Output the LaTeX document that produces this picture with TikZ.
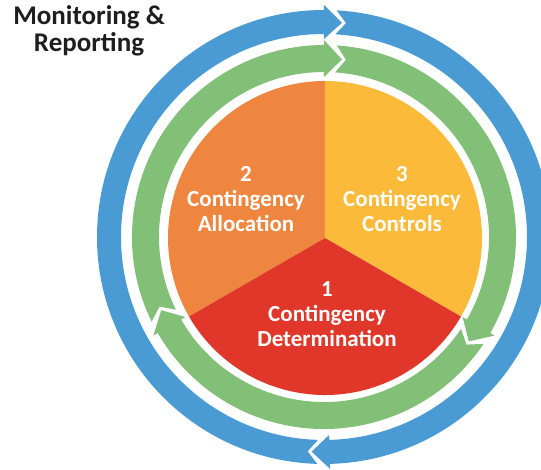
\documentclass[tikz,border=0pt]{standalone}
\usepackage{fontspec}
\setmainfont{Carlito}
\definecolor{cOrange}{HTML}{EE8640}
\definecolor{cYellow}{HTML}{FBBA39}
\definecolor{cRed}{HTML}{E0372A}
\definecolor{cGreen}{HTML}{82C078}
\definecolor{cBlue}{HTML}{4A9BD4}
\definecolor{cText}{HTML}{1E1E1E}
\newcommand{\ringseg}[5]{%
  \pgfmathsetmacro\sgRm{(#2+#3)/2}%
  \pgfmathsetmacro\sgA{#4-12/\sgRm*57.2958}%
  \pgfmathsetmacro\sgN{\sgA-10/\sgRm*57.2958}%
  \pgfmathsetmacro\sgT{#5-18/\sgRm*57.2958}%
  \pgfmathsetmacro\sgHo{#3+5}%
  \pgfmathsetmacro\sgHi{#2-5}%
  \fill[#1] (\sgA:#3pt) arc[start angle=\sgA, end angle=#5, radius=#3pt]
    -- (#5:\sgHo pt) -- (\sgT:\sgRm pt) -- (#5:\sgHi pt) -- (#5:#2pt)
    arc[start angle=#5, end angle=\sgA, radius=#2pt] -- (\sgN:\sgRm pt) -- cycle;
}
\tikzset{
  pielabel/.style={text=white, align=center, font=\fontsize{23}{25}\selectfont\bfseries, inner sep=0pt},
  toplabel/.style={text=cText, align=center, font=\fontsize{27}{26.5}\selectfont\bfseries, inner sep=0pt}
}
\begin{document}
\begin{tikzpicture}[x=1pt,y=1pt]
\useasboundingbox (-324,-233) rectangle (217,237);
\clip (-324,-233) rectangle (217,237);
% pie
\begin{scope}[shift={(1,-1)}]
\fill[cOrange] (0,0) -- (90:157pt) arc[start angle=90, end angle=210, radius=157pt] -- cycle;
\fill[cYellow] (0,0) -- (-30:157pt) arc[start angle=-30, end angle=90, radius=157pt] -- cycle;
\fill[cRed] (0,0) -- (210:157pt) arc[start angle=210, end angle=330, radius=157pt] -- cycle;
\end{scope}
% green ring
\ringseg{cGreen}{165}{192}{90}{-30}
\ringseg{cGreen}{165}{192}{-30}{-150}
\ringseg{cGreen}{165}{192}{-150}{-270}
% blue ring
\ringseg{cBlue}{203}{227}{90}{-88.5}
\ringseg{cBlue}{203}{227}{-88.5}{-270}
% labels
\node[pielabel] (alloc) at (-78,38) {2\\Contingency\\Allocation};
\node[pielabel] (ctrl) at (78,38) {3\\Contingency\\Controls};
\node[pielabel] (det) at (3,-77) {1\\Contingency\\Determination};
\node[toplabel] (mon) at (-235,206) {Monitoring \&\\Reporting};
\end{tikzpicture}
\end{document}
